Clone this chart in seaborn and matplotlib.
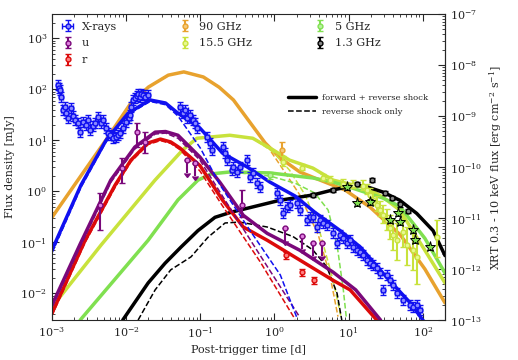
import numpy as np
import matplotlib
matplotlib.use("Agg")
import matplotlib.pyplot as plt
from matplotlib.lines import Line2D
import seaborn as sns

# colours of the bands
c_x = '#1010f0'
c_u = '#7a087a'
c_r = '#dc0a0a'
c_90 = '#e8a22e'
c_15 = '#c8e23c'
c_5 = '#80e050'
c_13 = '#000000'

# ---- model curves: forward + reverse shock (fr), reverse shock only (rs)
t_x_fr = [1e-3, 2.46e-3, 5.35e-3, 0.0106, 0.021, 0.034, 0.05, 0.099, 0.2, 0.43, 0.87, 1.9, 3.5, 7.7, 14.4, 29, 68, 110]
F_x_fr = [0.071, 1.33, 10, 34, 62, 54, 34, 17.4, 5.6, 3.0, 1.52, 0.81, 0.39, 0.17, 0.081, 0.025, 0.0065, 0.0025]
t_x_rs = [1e-3, 2.46e-3, 5.35e-3, 0.0106, 0.021, 0.034, 0.05, 0.1, 0.185, 0.47, 1.2, 2.0]
F_x_rs = [0.062, 1.2, 9.3, 32, 58, 50, 30, 7.1, 1.33, 0.17, 0.023, 0.0034]

t_u_fr = [1e-3, 2.4e-3, 6.2e-3, 0.0131, 0.0246, 0.034, 0.05, 0.099, 0.184, 0.38, 0.8, 2.2, 6.2, 12.5, 27]
F_u_fr = [0.0059, 0.093, 1.66, 7.4, 14.5, 14.9, 12.6, 4.7, 1.5, 0.34, 0.15, 0.07, 0.026, 0.0117, 0.003]
t_u_rs = [1e-3, 2.4e-3, 6.2e-3, 0.0131, 0.0246, 0.034, 0.05, 0.099, 0.216, 0.64, 2.2]
F_u_rs = [0.0054, 0.083, 1.5, 6.8, 13.3, 13.9, 11.0, 4.1, 0.67, 0.056, 0.0034]

t_r_fr = [1e-3, 2.8e-3, 7.1e-3, 0.0116, 0.0198, 0.029, 0.04, 0.053, 0.099, 0.2, 0.38, 0.8, 2.2, 6.2, 10.5, 24]
F_r_fr = [0.0041, 0.11, 1.33, 4.1, 8.9, 10.6, 9.3, 7.1, 3.2, 0.67, 0.2, 0.11, 0.045, 0.018, 0.0117, 0.003]
t_r_rs = [1e-3, 2.8e-3, 7.1e-3, 0.0116, 0.0198, 0.029, 0.04, 0.053, 0.099, 0.196, 0.64, 1.9]
F_r_rs = [0.0037, 0.1, 1.2, 3.8, 8.3, 9.9, 8.7, 6.6, 2.5, 0.54, 0.042, 0.0031]

t_90_fr = [1e-3, 2.5e-3, 5.3e-3, 0.0116, 0.02, 0.037, 0.06, 0.11, 0.18, 0.28, 0.75, 1.2, 2.2, 4.1, 9, 19.5, 50, 107, 200]
F_90_fr = [0.31, 2.1, 10, 54, 111, 190, 220, 175, 110, 62, 8.9, 4.5, 2.4, 1.67, 1.06, 0.49, 0.14, 0.03, 0.0065]
t_90_rs = [1e-3, 2.5e-3, 5.3e-3, 0.0116, 0.02, 0.037, 0.06, 0.11, 0.18, 0.28, 0.75, 1.19, 2.2, 3.9, 5.6, 7.2]
F_90_rs = [0.31, 2.1, 10, 54, 111, 190, 220, 175, 110, 62, 8.9, 3.3, 0.85, 0.14, 0.023, 0.0035]

t_15_fr = [1e-3, 4.6e-3, 0.0245, 0.058, 0.09, 0.25, 0.51, 0.96, 1.6, 3.3, 6.2, 18, 29, 49, 107, 200]
F_15_fr = [0.0054, 0.089, 1.66, 6.5, 11, 12.6, 11, 6.5, 4.1, 2.86, 1.66, 1.15, 0.77, 0.43, 0.07, 0.016]
t_15_rs = [1e-3, 4.6e-3, 0.0245, 0.058, 0.09, 0.25, 0.51, 0.96, 1.6, 2.6, 4.1, 6.2, 7.9]
F_15_rs = [0.0054, 0.089, 1.66, 6.5, 11, 12.6, 11, 5.9, 2.6, 0.85, 0.16, 0.018, 0.0035]

t_5_fr = [2.4e-3, 0.0198, 0.05, 0.093, 0.14, 0.25, 0.87, 3.3, 6.2, 10.5, 29, 49, 107, 200]
F_5_fr = [0.003, 0.11, 0.68, 1.66, 2.2, 2.4, 2.3, 1.83, 1.52, 1.2, 0.74, 0.51, 0.12, 0.025]
t_5_rs = [2.4e-3, 0.0198, 0.05, 0.093, 0.14, 0.25, 0.87, 1.9, 3.5, 5.3, 7.0, 8.5, 9.3]
F_5_rs = [0.003, 0.11, 0.68, 1.66, 2.2, 2.4, 2.0, 1.45, 0.93, 0.43, 0.089, 0.0117, 0.0035]

t_13_fr = [9e-3, 0.0198, 0.0335, 0.055, 0.093, 0.158, 0.26, 0.44, 1.19, 3.3, 6.2, 13, 18, 29, 49, 83, 138, 200]
F_13_fr = [0.003, 0.016, 0.039, 0.081, 0.17, 0.31, 0.39, 0.47, 0.67, 0.85, 1.07, 1.33, 1.22, 0.97, 0.67, 0.37, 0.17, 0.055]
t_13_rs = [0.0145, 0.0246, 0.04, 0.075, 0.127, 0.216, 0.34, 0.8, 1.78, 3.3, 5.1, 7.0, 8.1]
F_13_rs = [0.003, 0.0117, 0.029, 0.052, 0.126, 0.24, 0.25, 0.2, 0.13, 0.071, 0.033, 0.010, 0.003]

# ---- observations
t_xray = [1.2e-3, 1.24e-3, 1.28e-3, 1.32e-3, 1.41e-3, 1.48e-3, 1.55e-3, 1.64e-3, 1.8e-3, 1.92e-3, 2.04e-3,
          2.24e-3, 2.39e-3, 2.62e-3, 2.88e-3, 3.05e-3, 3.26e-3, 3.55e-3, 3.8e-3, 4.18e-3, 4.6e-3, 4.9e-3,
          5.35e-3, 5.7e-3, 6.07e-3, 6.65e-3, 7.3e-3, 7.8e-3, 8.3e-3, 9.1e-3, 0.01, 0.0108, 0.0113, 0.0116,
          0.0124, 0.0132, 0.0138, 0.0145, 0.0152, 0.0159, 0.0169, 0.018, 0.0198,
          0.0533, 0.0586, 0.063, 0.0664, 0.0728, 0.08, 0.085, 0.0906,
          0.124, 0.136, 0.144, 0.203, 0.216, 0.23, 0.269, 0.275, 0.314, 0.344, 0.428, 0.47, 0.516, 0.585, 0.64,
          1.09, 1.19, 1.31, 1.48, 1.63, 2.02, 2.22, 2.76, 3.03, 3.33, 3.77, 4.14, 4.54, 5.14, 6.2, 7.0, 7.7,
          8.45, 9.6, 10.5, 11.5, 13.1, 14.4, 15.7, 17.8, 19.6, 21.5, 24.3, 26.7, 29.3, 33.2, 36.4, 40, 45.3,
          54.6, 67.8, 74.4, 84.3, 92.5]
F_xray = [121, 108, 97, 71, 39, 45, 34, 27, 43, 30, 25,
          22, 14.6, 23, 20, 25, 15.9, 19, 22, 29, 22, 25,
          17.4, 14, 12.7, 11.1, 11.6, 12.5, 13.9, 17.4, 23, 27, 31, 45,
          62, 68, 75, 80, 72, 80, 77, 71, 77,
          45, 34, 39, 27, 31, 25, 22, 17.4,
          11.6, 8.85, 6.45, 7.4, 5.6, 4.1, 2.6, 3.0, 2.4, 3.0, 4.1, 1.9, 2.3, 1.46, 1.21,
          0.93, 0.68, 0.376, 0.49, 0.54, 0.59, 0.43, 0.27, 0.31, 0.31, 0.2, 0.27, 0.24, 0.22, 0.152, 0.097, 0.139,
          0.121, 0.097, 0.111, 0.081, 0.071, 0.065, 0.056, 0.045, 0.039, 0.036, 0.031, 0.025, 0.0116, 0.023,
          0.018, 0.0146, 0.0101, 0.0074, 0.0059, 0.0054, 0.0059, 0.0047]

t_u = [4.44e-3, 8.8e-3, 0.014, 0.018, 0.366]
F_u = [0.54, 2.86, 14.6, 9.3, 0.54]
F_u_lo = [0.174, 1.46, 7.4, 5.6, 0.31]
F_u_hi = [0.93, 4.5, 22, 14.6, 1.06]
t_u_lim = [0.066, 0.085, 1.39, 2.37, 3.33, 4.4]
F_u_lim = [4.1, 3.6, 0.19, 0.134, 0.097, 0.097]

t_r = [1.44, 2.37, 3.43]
F_r = [0.056, 0.026, 0.018]

t_90 = [1.27]
F_90 = [6.45]
F_90_lo = [4.1]
F_90_hi = [9.3]

t_15 = [1.31, 2.37, 4.54, 5.65, 8.45, 11.5, 15.7, 17.8, 19.6, 21.5, 24.3, 26.7, 29.3, 33.2, 36.4, 40,
        45.3, 54.6, 61.8, 74.4, 84.3, 156]
F_15 = [3.76, 2.86, 1.82, 1.66, 1.39, 1.33, 1.27, 1.06, 0.85, 0.68, 0.54, 0.43, 0.34, 0.27, 0.19, 0.139,
        0.111, 0.159, 0.089, 0.071, 0.051, 0.127]
err_15 = [0.15, 0.1, 0.1, 0.1, 0.12, 0.12, 0.15, 0.15, 0.2, 0.2, 0.25, 0.25, 0.3, 0.35, 0.4, 0.5,
          0.6, 0.5, 0.6, 0.6, 0.7, 0.6]

t_5 = [0.87]
F_5 = [2.1]
t_5_star = [9.6, 13.1, 19.6, 36.4, 47, 49.7, 74.4, 78, 124]
F_5_star = [1.21, 0.59, 0.62, 0.27, 0.376, 0.25, 0.174, 0.111, 0.081]

t_13 = [3.33, 6.2, 13.1, 20.5, 31, 38, 49.7, 64]
F_13 = [0.85, 1.06, 1.39, 1.66, 0.93, 0.74, 0.56, 0.41]

x_ticks = [1e-3, 1e-2, 1e-1, 1e0, 1e1, 1e2]
y_ticks = [1e-2, 1e-1, 1e0, 1e1, 1e2, 1e3]
xrt_ticks = [1e-13, 1e-12, 1e-11, 1e-10, 1e-9, 1e-8, 1e-7]

sns.set_style("ticks", {"xtick.direction": "in", "ytick.direction": "in"})
plt.rcParams['font.family'] = ['DejaVu Serif']
plt.rcParams['font.size'] = 8
plt.rcParams['mathtext.fontset'] = 'dejavuserif'

fig = plt.figure(figsize=(5.18, 3.6), dpi=100)
ax = fig.add_axes([0.1004, 0.111, 0.7587, 0.850])
ax.set_xscale('log')
ax.set_yscale('log')


def model(t, F, color, ls):
    lw = 2.5 if ls == '-' else 1.1
    sns.lineplot(x=np.array(t), y=np.array(F), ax=ax, color=color, lw=lw, linestyle=ls,
                 estimator=None, sort=False, legend=False, zorder=2)


curves = [(t_90_fr, F_90_fr, t_90_rs, F_90_rs, c_90),
          (t_15_fr, F_15_fr, t_15_rs, F_15_rs, c_15),
          (t_5_fr, F_5_fr, t_5_rs, F_5_rs, c_5),
          (t_13_fr, F_13_fr, t_13_rs, F_13_rs, c_13),
          (t_r_fr, F_r_fr, t_r_rs, F_r_rs, c_r),
          (t_u_fr, F_u_fr, t_u_rs, F_u_rs, c_u),
          (t_x_fr, F_x_fr, t_x_rs, F_x_rs, c_x)]
for tf, ff, tr, fr, c in curves:
    model(tf, ff, c, '-')
    model(tr, fr, c, '--')

ms = 3.5
F_xray = np.array(F_xray)
t_xray = np.array(t_xray)
h_x = ax.errorbar(t_xray, F_xray, xerr=[t_xray * 0.07, t_xray * 0.07],
                  yerr=[F_xray * 0.2, F_xray * 0.25], fmt='o', color=c_x, mfc='#8a8aff',
                  mec=c_x, ms=ms, capsize=2, elinewidth=1, zorder=4, label='X-rays')

F_u = np.array(F_u)
h_u = ax.errorbar(t_u, F_u, yerr=[F_u - np.array(F_u_lo), np.array(F_u_hi) - F_u], fmt='o',
                  color=c_u, mfc='#e080e0', mec=c_u, ms=ms, capsize=2, zorder=4, label='u')
F_u_lim = np.array(F_u_lim)
ax.errorbar(t_u_lim, F_u_lim, yerr=F_u_lim * 0.45, uplims=True, fmt='o', color=c_u,
            mfc='#e080e0', mec=c_u, ms=ms, capsize=2, zorder=4)

F_r = np.array(F_r)
h_r = ax.errorbar(t_r, F_r, yerr=F_r * 0.15, fmt='o', color=c_r, mfc='#ff8080', mec=c_r,
                  ms=ms, capsize=2, zorder=4, label='r')

F_90 = np.array(F_90)
h_90 = ax.errorbar(t_90, F_90, yerr=[F_90 - np.array(F_90_lo), np.array(F_90_hi) - F_90], fmt='o',
                   color=c_90, mfc='#f5c878', mec=c_90, ms=ms, capsize=2, zorder=4, label='90 GHz')

F_15 = np.array(F_15)
e15 = np.array(err_15)
h_15 = ax.errorbar(t_15, F_15, yerr=[F_15 * e15, F_15 * e15 * 2], fmt='o', color=c_15,
                   mfc='#e8f890', mec=c_15, ms=ms, capsize=2, zorder=4, label='15.5 GHz')

F_5 = np.array(F_5)
h_5 = ax.errorbar(t_5, F_5, yerr=F_5 * 0.15, fmt='o', color=c_5, mfc='#b8f0a0', mec=c_5,
                  ms=ms, capsize=2, zorder=4, label='5 GHz')
F_5_star = np.array(F_5_star)
ax.errorbar(t_5_star, F_5_star, yerr=F_5_star * 0.12, fmt='*', color='k', mfc=c_5, mec='k',
            ms=8, mew=0.7, capsize=2, elinewidth=1, zorder=5)

F_13 = np.array(F_13)
h_13 = ax.errorbar(t_13, F_13, yerr=F_13 * 0.1, fmt='o', color=c_13, mfc='#888888', mec='k',
                   ms=ms, capsize=2, zorder=4, label='1.3 GHz')

ax.set_xlim(1e-3, 200)
ax.set_ylim(3e-3, 3e3)
ax.set_xticks(x_ticks)
ax.set_yticks(y_ticks)
ax.set_xlabel('Post-trigger time [d]')
ax.set_ylabel('Flux density [mJy]')
ax.tick_params(which='both', direction='in', top=True, right=False)
ax.tick_params(which='major', length=5)
ax.tick_params(which='minor', length=2.5)

# XRT flux scale: 3e3 mJy <-> 1e-7 erg/cm2/s
conv = 1e-7 / 3e3
ax2 = ax.secondary_yaxis('right', functions=(lambda f: f * conv, lambda f: f / conv))
ax2.set_yticks(xrt_ticks)
ax2.set_ylabel('XRT 0.3 - 10 keV flux [erg cm$^{-2}$ s$^{-1}$]')
ax2.tick_params(which='both', direction='in')
ax2.tick_params(which='major', length=5)
ax2.tick_params(which='minor', length=2.5)

leg1 = ax.legend(handles=[h_x, h_u, h_r, h_90, h_15, h_5, h_13], ncol=3, loc='upper left',
                 frameon=False, fontsize=8, columnspacing=5.4, labelspacing=0.6,
                 handlelength=1.4, handletextpad=0.6, borderaxespad=0.3)
ax.add_artist(leg1)
shock = [Line2D([], [], color='k', lw=2.5, ls='-'), Line2D([], [], color='k', lw=1.1, ls='--')]
ax.legend(shock, ['forward + reverse shock', 'reverse shock only'], loc='center left',
          bbox_to_anchor=(0.6, 0.704), frameon=False, fontsize=6.1, labelspacing=0.7,
          handlelength=3.3, handletextpad=0.7, borderpad=0, borderaxespad=0)

fig.savefig('out.png', dpi=100)
